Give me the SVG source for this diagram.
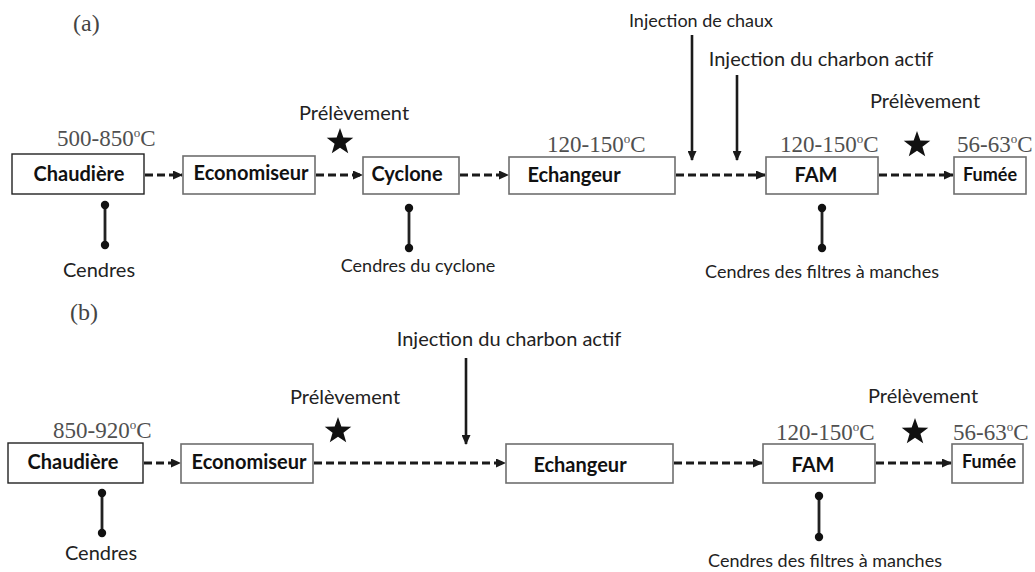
<svg xmlns="http://www.w3.org/2000/svg" width="1035" height="572" viewBox="0 0 1035 572">
<style>
.box{fill:#fff;stroke:#6e6e6e;stroke-width:1.6}
.boxd{fill:#fff;stroke:#222;stroke-width:1.4}
.nl{font-family:Lato,"Liberation Sans",sans-serif;font-weight:bold;font-size:20px;fill:#111;text-anchor:middle}
.lb{font-family:Lato,"Liberation Sans",sans-serif;font-size:20px;fill:#222;text-anchor:middle}
.sm{font-size:18px}
.tp{font-family:"Liberation Serif",serif;font-size:23px;fill:#505050}
.sup{font-size:13px}
.pl{font-family:"Liberation Serif",serif;font-size:24px;fill:#444}
.flow{stroke:#1a1a1a;stroke-width:3;stroke-dasharray:8 4;fill:none}
.inj{stroke:#1a1a1a;stroke-width:2.6;fill:none}
.ash{stroke:#222;stroke-width:2.8}
.dot{fill:#111}
</style>
<defs>
<marker id="ah" markerWidth="10" markerHeight="9" refX="9" refY="4.5" orient="auto" markerUnits="userSpaceOnUse">
<path d="M0,0 L10,4.5 L0,9 Z" fill="#1a1a1a"/>
</marker>
<marker id="ahv" markerWidth="10" markerHeight="9" refX="9" refY="4.5" orient="auto" markerUnits="userSpaceOnUse">
<path d="M0,0 L10,4.5 L0,9 Z" fill="#1a1a1a"/>
</marker>
<path id="star" d="M0,-11 L2.645,-3.64 L10.46,-3.4 L4.28,1.39 L6.47,8.9 L0,4.5 L-6.47,8.9 L-4.28,1.39 L-10.46,-3.4 L-2.645,-3.64 Z" fill="#111" transform="scale(1.27)"/>
</defs>

<!-- Panel (a) -->
<text class="pl" x="73" y="31">(a)</text>

<g id="connectors-a">
<line class="flow" x1="145" y1="175" x2="182" y2="175" marker-end="url(#ah)"/>
<line class="flow" x1="316" y1="175" x2="362" y2="175" marker-end="url(#ah)"/>
<line class="flow" x1="460" y1="175" x2="508" y2="175" marker-end="url(#ah)"/>
<line class="flow" x1="676" y1="175" x2="765" y2="175" marker-end="url(#ah)"/>
<line class="flow" x1="879" y1="175" x2="953" y2="175" marker-end="url(#ah)"/>
<line class="inj" x1="692" y1="35" x2="692" y2="160" marker-end="url(#ahv)"/>
<line class="inj" x1="737" y1="75" x2="737" y2="160" marker-end="url(#ahv)"/>
<line class="ash" x1="105" y1="205" x2="105" y2="245"/>
<circle class="dot" cx="105" cy="205" r="4.2"/><circle class="dot" cx="105" cy="245" r="4.2"/>
<line class="ash" x1="409" y1="208" x2="409" y2="248"/>
<circle class="dot" cx="409" cy="208" r="4.2"/><circle class="dot" cx="409" cy="248" r="4.2"/>
<line class="ash" x1="822" y1="208" x2="822" y2="248"/>
<circle class="dot" cx="822" cy="208" r="4.2"/><circle class="dot" cx="822" cy="248" r="4.2"/>
</g>

<g id="a-chaudiere">
<text class="tp" x="57" y="146">500-850<tspan class="sup" dy="-9">o</tspan><tspan dy="9">C</tspan></text>
<rect class="boxd" x="12" y="154" width="132" height="40"/>
<text class="nl" x="79" y="181">Chaudière</text>
</g>
<g id="a-economiseur">
<rect class="box" x="183" y="156" width="132" height="38"/>
<text class="nl" x="251" y="180">Economiseur</text>
</g>
<g id="a-cyclone">
<rect class="box" x="363" y="157" width="96" height="37"/>
<text class="nl" x="407" y="181">Cyclone</text>
</g>
<g id="a-echangeur">
<text class="tp" x="547" y="152">120-150<tspan class="sup" dy="-9">o</tspan><tspan dy="9">C</tspan></text>
<rect class="box" x="509" y="157" width="166" height="37"/>
<text class="nl" x="574" y="182">Echangeur</text>
</g>
<g id="a-fam">
<text class="tp" x="780" y="152">120-150<tspan class="sup" dy="-9">o</tspan><tspan dy="9">C</tspan></text>
<rect class="box" x="766" y="157" width="112" height="37"/>
<text class="nl" x="816" y="182">FAM</text>
</g>
<g id="a-fumee">
<text class="tp" x="957" y="152">56-63<tspan class="sup" dy="-9">o</tspan><tspan dy="9">C</tspan></text>
<rect class="box" x="954" y="157" width="72" height="37"/>
<text class="nl" x="990" y="181" style="font-size:18px">Fumée</text>
</g>
<g id="a-labels">
<text class="lb" x="99" y="277">Cendres</text>
<text class="lb sm" x="418" y="272">Cendres du cyclone</text>
<text class="lb sm" x="822" y="278">Cendres des filtres à manches</text>
<text class="lb" x="354" y="120">Prélèvement</text>
<use href="#star" x="340" y="142"/>
<text class="lb" x="925" y="108">Prélèvement</text>
<use href="#star" x="917" y="145"/>
<text class="lb sm" x="701" y="27">Injection de chaux</text>
<text class="lb" x="821" y="66">Injection du charbon actif</text>
</g>

<!-- Panel (b) -->
<text class="pl" x="70" y="320">(b)</text>

<g id="connectors-b">
<line class="flow" x1="144" y1="463" x2="180" y2="463" marker-end="url(#ah)"/>
<line class="flow" x1="314" y1="463" x2="505" y2="463" marker-end="url(#ah)"/>
<line class="flow" x1="674" y1="463" x2="762" y2="463" marker-end="url(#ah)"/>
<line class="flow" x1="876" y1="463" x2="951" y2="463" marker-end="url(#ah)"/>
<line class="inj" x1="466" y1="358" x2="466" y2="444" marker-end="url(#ahv)"/>
<line class="ash" x1="102" y1="493" x2="102" y2="533"/>
<circle class="dot" cx="102" cy="493" r="4.2"/><circle class="dot" cx="102" cy="533" r="4.2"/>
<line class="ash" x1="819" y1="496" x2="819" y2="537"/>
<circle class="dot" cx="819" cy="496" r="4.2"/><circle class="dot" cx="819" cy="537" r="4.2"/>
</g>

<g id="b-chaudiere">
<text class="tp" x="53" y="438">850-920<tspan class="sup" dy="-9">o</tspan><tspan dy="9">C</tspan></text>
<rect class="boxd" x="8" y="443" width="135" height="40"/>
<text class="nl" x="73" y="469">Chaudière</text>
</g>
<g id="b-economiseur">
<rect class="box" x="181" y="444" width="132" height="39"/>
<text class="nl" x="249" y="469">Economiseur</text>
</g>
<g id="b-echangeur">
<rect class="box" x="506" y="444" width="167" height="39"/>
<text class="nl" x="580" y="472">Echangeur</text>
</g>
<g id="b-fam">
<text class="tp" x="776" y="440">120-150<tspan class="sup" dy="-9">o</tspan><tspan dy="9">C</tspan></text>
<rect class="box" x="763" y="444" width="112" height="39"/>
<text class="nl" x="813" y="472">FAM</text>
</g>
<g id="b-fumee">
<text class="tp" x="953" y="440">56-63<tspan class="sup" dy="-9">o</tspan><tspan dy="9">C</tspan></text>
<rect class="box" x="952" y="444" width="71" height="39"/>
<text class="nl" x="989" y="468" style="font-size:18px">Fumée</text>
</g>
<g id="b-labels">
<text class="lb" x="101" y="560">Cendres</text>
<text class="lb sm" x="825" y="567">Cendres des filtres à manches</text>
<text class="lb" x="345" y="404">Prélèvement</text>
<use href="#star" x="338" y="431"/>
<text class="lb" x="923" y="403">Prélèvement</text>
<use href="#star" x="915" y="432"/>
<text class="lb" x="509" y="346">Injection du charbon actif</text>
</g>
</svg>
